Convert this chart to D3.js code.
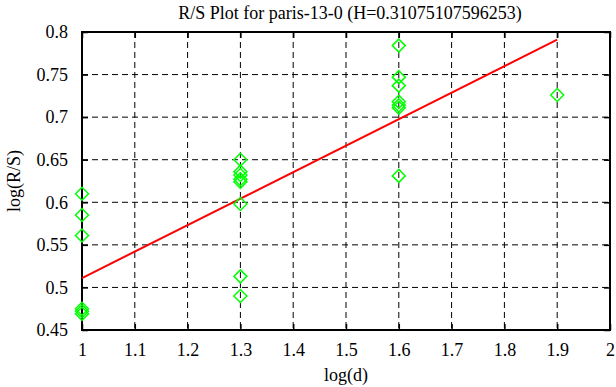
<!DOCTYPE html>
<html>
<head>
<meta charset="utf-8">
<script src="https://cdn.jsdelivr.net/npm/d3@7"></script>
<style>
  body { margin: 0; background: #fff; }
  svg text { font-family: "Times New Roman", Times, "Liberation Serif", "DejaVu Serif", serif; fill: #000; }
</style>
</head>
<body>
<div id="chart"></div>
<script>
// data
let point_x = [1, 1, 1, 1, 1, 1,
               1.3, 1.3, 1.3, 1.3, 1.3, 1.3, 1.3, 1.3,
               1.6, 1.6, 1.6, 1.6, 1.6, 1.6, 1.6,
               1.9];
let point_y = [0.61, 0.585, 0.561, 0.475, 0.472, 0.469,
               0.65, 0.636, 0.632, 0.627, 0.624, 0.598, 0.513, 0.49,
               0.784, 0.747, 0.737, 0.718, 0.714, 0.711, 0.631,
               0.726];
let fit_x = [1, 1.9];
let fit_y = [0.511, 0.791];
let x_ticks = [1, 1.1, 1.2, 1.3, 1.4, 1.5, 1.6, 1.7, 1.8, 1.9, 2];
let y_ticks = [0.45, 0.5, 0.55, 0.6, 0.65, 0.7, 0.75, 0.8];
let TITLE = "R/S Plot for paris-13-0 (H=0.31075107596253)";

// chart properties
let WIDTH = 616;
let HEIGHT = 387;
let LEFT = 82, RIGHT = 610, TOP = 32, BOTTOM = 330;
let FONT = 18;
let SERIF = '"Times New Roman", Times, "Liberation Serif", "DejaVu Serif", serif';

const svg = d3.select("#chart")
    .append("svg")
    .attr("width", WIDTH)
    .attr("height", HEIGHT)
    .style("font-family", SERIF);

const xScale = d3.scaleLinear().domain([1, 2]).range([LEFT, RIGHT]);
const yScale = d3.scaleLinear().domain([0.45, 0.8]).range([BOTTOM, TOP]);

// grid
svg.append("g")
    .selectAll("line")
    .data(x_ticks.slice(1, -1))
    .join("line")
    .attr("x1", d => xScale(d)).attr("x2", d => xScale(d))
    .attr("y1", TOP).attr("y2", BOTTOM)
    .attr("stroke", "#000").attr("stroke-width", 1)
    .attr("stroke-dasharray", "6,4");

svg.append("g")
    .selectAll("line")
    .data(y_ticks.slice(1, -1))
    .join("line")
    .attr("x1", LEFT).attr("x2", RIGHT)
    .attr("y1", d => yScale(d)).attr("y2", d => yScale(d))
    .attr("stroke", "#000").attr("stroke-width", 1)
    .attr("stroke-dasharray", "6,4");

// axes with inner ticks
const xAxis = d3.axisBottom(xScale).tickValues(x_ticks).tickSize(-6).tickPadding(13)
    .tickFormat(d3.format("~g"));
const xAxisTop = d3.axisTop(xScale).tickValues(x_ticks).tickSize(-6).tickFormat("");
const yAxis = d3.axisLeft(yScale).tickValues(y_ticks).tickSize(-6).tickPadding(14)
    .tickFormat(d3.format("~g"));
const yAxisRight = d3.axisRight(yScale).tickValues(y_ticks).tickSize(-6).tickFormat("");

function styleAxis(g) {
    g.attr("font-family", null).attr("font-size", null);
    g.select(".domain").remove();
    g.selectAll(".tick line").attr("stroke", "#000").attr("stroke-width", 1.5);
    g.selectAll(".tick text")
        .style("font-family", SERIF)
        .attr("font-size", FONT)
        .attr("fill", "#000");
}

svg.append("g").attr("transform", `translate(0, ${BOTTOM})`).call(xAxis).call(styleAxis);
svg.append("g").attr("transform", `translate(0, ${TOP})`).call(xAxisTop).call(styleAxis);
svg.append("g").attr("transform", `translate(${LEFT}, 0)`).call(yAxis).call(styleAxis);
svg.append("g").attr("transform", `translate(${RIGHT}, 0)`).call(yAxisRight).call(styleAxis);

// frame
svg.append("rect")
    .attr("x", LEFT).attr("y", TOP)
    .attr("width", RIGHT - LEFT).attr("height", BOTTOM - TOP)
    .attr("fill", "none").attr("stroke", "#000").attr("stroke-width", 2);

// fit line
const fit_line = d3.line()
    .x(d => xScale(d[0]))
    .y(d => yScale(d[1]));

svg.append("path")
    .datum(fit_x.map((x, i) => [x, fit_y[i]]))
    .attr("fill", "none")
    .attr("stroke", "#ff0000")
    .attr("stroke-width", 2)
    .attr("d", fit_line);

// diamonds
svg.append("g")
    .selectAll("path")
    .data(point_x.map((x, i) => [x, point_y[i]]))
    .join("path")
    .attr("transform", d => `translate(${xScale(d[0])}, ${yScale(d[1])})`)
    .attr("d", "M0,-6.5L6.5,0L0,6.5L-6.5,0Z")
    .attr("fill", "none")
    .attr("stroke", "#00ff00")
    .attr("stroke-width", 1.5);

// labels
svg.append("text")
    .attr("x", (LEFT + RIGHT) / 2 + 4).attr("y", 19)
    .attr("text-anchor", "middle")
    .attr("font-size", FONT)
    .text(TITLE);

svg.append("text")
    .attr("x", xScale(1.5)).attr("y", 381)
    .attr("text-anchor", "middle")
    .attr("font-size", FONT)
    .text("log(d)");

svg.append("text")
    .attr("transform", `translate(20, ${(TOP + BOTTOM) / 2}) rotate(-90)`)
    .attr("text-anchor", "middle")
    .attr("font-size", FONT)
    .text("log(R/S)");
</script>
</body>
</html>
